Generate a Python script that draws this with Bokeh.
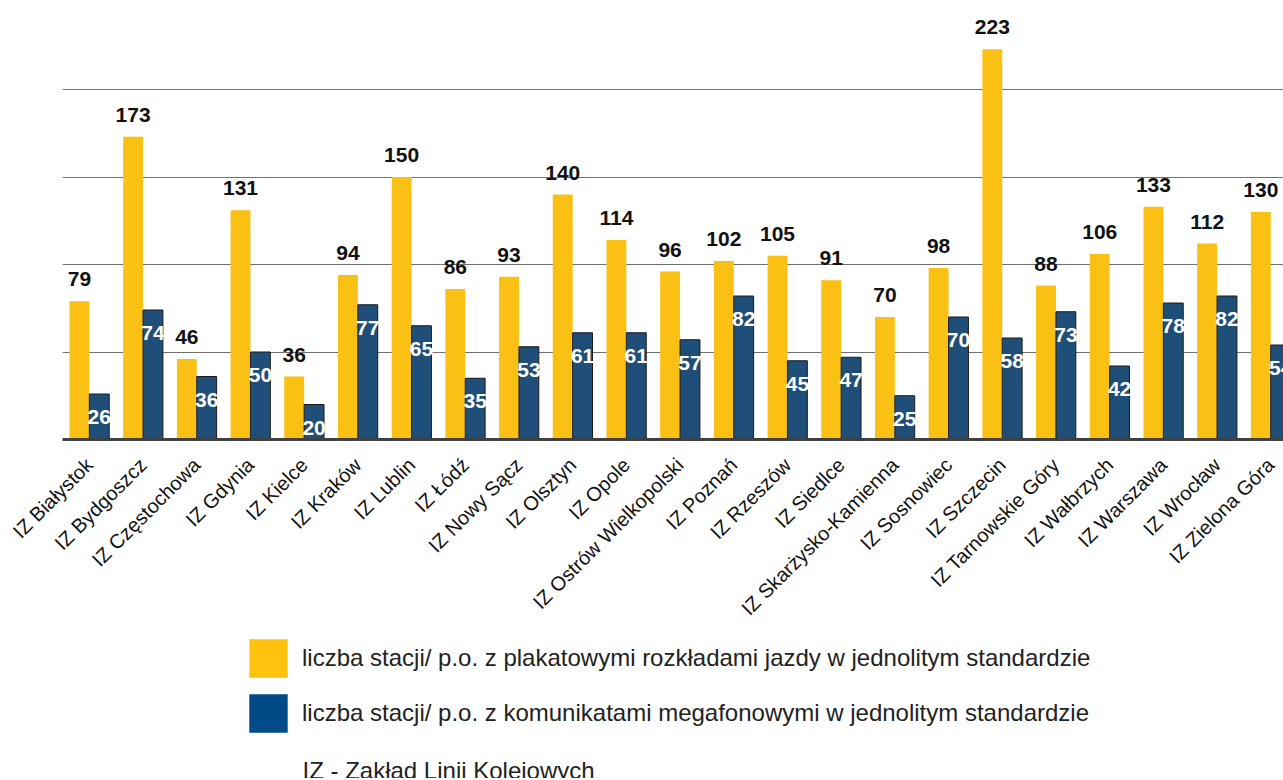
import math
from bokeh.plotting import figure
from bokeh.layouts import column
from bokeh.models import (ColumnDataSource, Range1d, FixedTicker, Legend, LegendItem, Label)
from bokeh.core.properties import value
from bokeh.embed import file_html
from bokeh.resources import INLINE

categories = ["IZ Białystok", "IZ Bydgoszcz", "IZ Częstochowa", "IZ Gdynia", "IZ Kielce",
              "IZ Kraków", "IZ Lublin", "IZ Łódź", "IZ Nowy Sącz", "IZ Olsztyn", "IZ Opole",
              "IZ Ostrów Wielkopolski", "IZ Poznań", "IZ Rzeszów", "IZ Siedlce",
              "IZ Skarżysko-Kamienna", "IZ Sosnowiec", "IZ Szczecin", "IZ Tarnowskie Góry",
              "IZ Wałbrzych", "IZ Warszawa", "IZ Wrocław", "IZ Zielona Góra"]
plakaty = [79, 173, 46, 131, 36, 94, 150, 86, 93, 140, 114, 96, 102, 105, 91, 70, 98, 223, 88, 106, 133, 112, 130]
megafony = [26, 74, 36, 50, 20, 77, 65, 35, 53, 61, 61, 57, 82, 45, 47, 25, 70, 58, 73, 42, 78, 82, 54]
series_names = ["liczba stacji/ p.o. z plakatowymi rozkładami jazdy w jednolitym standardzie",
                "liczba stacji/ p.o. z komunikatami megafonowymi w jednolitym standardzie"]
footnote = "IZ - Zakład Linii Kolejowych"
grid_ticks = [50, 100, 150, 200]

YELLOW = "#FAC014"
BLUE = "#1F4E79"
FONT = "Liberation Sans"

n = len(categories)
centers = [i + 0.5 for i in range(n)]
off = 0.185
bw = 0.37

src = ColumnDataSource(dict(
    xy=[c - off for c in centers],
    xb=[c + off for c in centers],
    y1=plakaty,
    y2=megafony,
    t1=[str(v) for v in plakaty],
    t2=[str(v) for v in megafony],
))

W = 1283
H1 = 634
H2 = 144
left = 62
top = 8
frame_h = 431
px_per_cat = 53.7
px_per_unit = 1.75

p = figure(width=W, height=H1, output_backend="svg", toolbar_location=None,
           x_range=Range1d(0, (W - left) / px_per_cat),
           y_range=Range1d(0, frame_h / px_per_unit),
           min_border_left=left, min_border_right=0, min_border_top=top,
           min_border_bottom=H1 - frame_h - top)
p.outline_line_color = None
p.background_fill_color = "white"
p.border_fill_color = "white"

p.vbar(x="xy", top="y1", bottom=0, width=bw, source=src, fill_color=YELLOW, line_color=None)
p.vbar(x="xb", top="y2", bottom=0, width=bw, source=src, fill_color=BLUE,
       line_color="#1a1a1a", line_width=1)

p.text(x="xy", y="y1", text="t1", source=src, text_align="center", text_baseline="alphabetic",
       y_offset=-22, text_font=value(FONT), text_font_style="bold", text_font_size="21px",
       text_color="#111111")
p.text(x="xb", y="y2", text="t2", source=src, text_align="center", text_baseline="alphabetic",
       y_offset=23, text_font=value(FONT), text_font_style="bold", text_font_size="21px",
       text_color="white")

p.yaxis.visible = False
p.ygrid.ticker = FixedTicker(ticks=grid_ticks)
p.ygrid.grid_line_color = "#707070"
p.ygrid.grid_line_width = 1
p.xgrid.visible = False

xa = p.xaxis[0]
xa.ticker = FixedTicker(ticks=centers)
xa.major_label_overrides = {c: name for c, name in zip(centers, categories)}
xa.major_label_orientation = math.pi / 4
xa.major_tick_line_color = None
xa.minor_tick_line_color = None
xa.major_tick_out = 0
xa.major_label_standoff = 22
xa.axis_line_color = "#404040"
xa.axis_line_width = 3
xa.major_label_text_font = FONT
xa.major_label_text_font_size = "20px"
xa.major_label_text_color = "#111111"

# legend + footnote panel
q = figure(width=W, height=H2, output_backend="svg", toolbar_location=None,
           x_range=Range1d(0, 1), y_range=Range1d(0, 1),
           x_axis_location=None, y_axis_location=None,
           min_border_left=left, min_border_right=0, min_border_top=0, min_border_bottom=0)
q.outline_line_color = None
q.xgrid.visible = False
q.ygrid.visible = False
nan = float("nan")
swatch = ColumnDataSource(dict(x=[nan], y=[nan]))
r1 = q.rect(x="x", y="y", width=1, height=1, source=swatch, fill_color="#FFC20E", line_color=None)
r2 = q.rect(x="x", y="y", width=1, height=1, source=swatch, fill_color="#004B87", line_color=None)
legend = Legend(items=[LegendItem(label=series_names[0], renderers=[r1]),
                       LegendItem(label=series_names[1], renderers=[r2])],
                location=(244 - left, 41), orientation="vertical",
                glyph_width=48, glyph_height=48, spacing=7, padding=0, margin=0,
                label_standoff=10, label_text_font=FONT, label_text_font_size="24px",
                label_text_color="#222222", border_line_color=None,
                background_fill_alpha=0)
q.add_layout(legend)
q.add_layout(Label(x=302 - left, y=8, x_units="screen", y_units="screen", text=footnote,
                   text_font=FONT, text_font_size="24px", text_color="#222222",
                   text_baseline="alphabetic"))

open("out.html", "w").write(file_html(column(p, q, spacing=0), INLINE))
